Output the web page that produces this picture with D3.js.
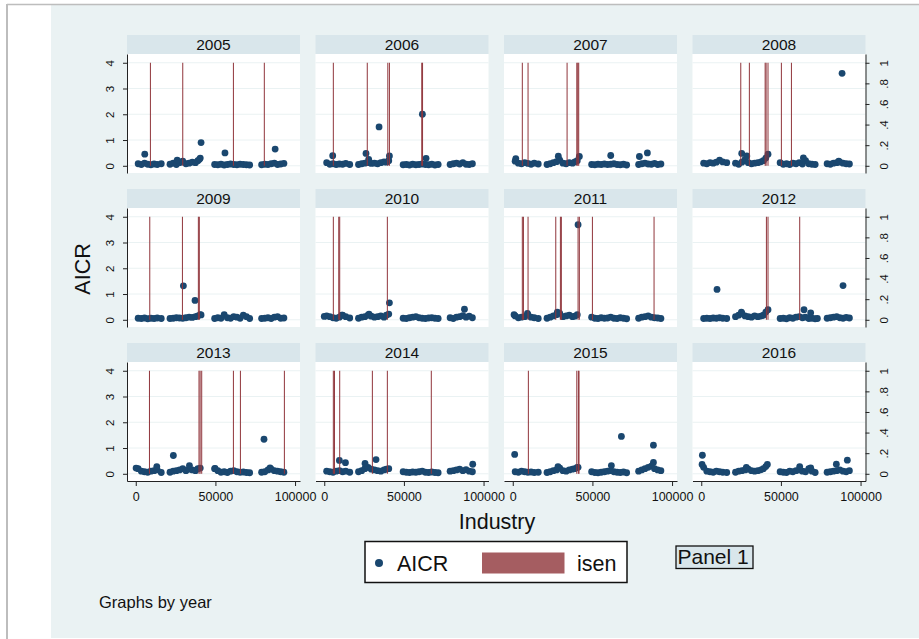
<!DOCTYPE html>
<html>
<head>
<meta charset="utf-8">
<script src="https://cdn.jsdelivr.net/npm/d3@7"></script>
<style>
body { margin: 0; background: #fff; }
svg { display: block; font-family: "Liberation Sans", Arial, sans-serif; }
</style>
</head>
<body>
<svg width="919" height="639"></svg>
<script>
var years = [2005, 2006, 2007, 2008, 2009, 2010, 2011, 2012, 2013, 2014, 2015, 2016];

// industry codes shared by every year
var industry = [1500, 3500, 5500, 7500, 9500, 11500, 13500, 16000,
  21500, 23500, 25500, 27500, 29500, 31500, 33500, 35500, 37500, 39000, 40500,
  49500, 51500, 53500, 55500, 57500, 59500, 61500, 63500, 65500, 67500, 69500, 71500,
  79000, 81000, 83000, 85000, 87000, 89000, 91000, 93000];

var aicr2005 = [.08, .05, .1, .06, .04, .07, .05, .08, .06, .1, .05, .12, .18, .08, .1, .14, .12, .2, .3, .05, .04, .06, .03, .05, .07, .05, .04, .06, .05, .04, .03, .04, .06, .05, .08, .1, .05, .07, .09];
var aicr2006 = [.12, .06, .08, .05, .07, .06, .09, .05, .05, .08, .1, .12, .09, .1, .08, .12, .15, .14, .2, .04, .05, .03, .06, .04, .05, .07, .05, .04, .06, .03, .05, .05, .08, .1, .07, .12, .06, .05, .08];
var aicr2007 = [.18, .1, .08, .12, .09, .06, .1, .07, .05, .08, .12, .16, .22, .1, .08, .12, .1, .15, .2, .05, .04, .06, .05, .07, .05, .06, .08, .05, .04, .06, .03, .05, .08, .1, .07, .06, .09, .05, .07];
var aicr2008 = [.1, .08, .12, .1, .14, .22, .15, .12, .1, .06, .14, .25, .12, .08, .1, .12, .15, .2, .3, .12, .06, .08, .05, .1, .08, .12, .07, .2, .08, .06, .05, .08, .06, .1, .12, .14, .1, .08, .07];
var aicr2009 = [.06, .05, .07, .04, .06, .05, .07, .05, .05, .06, .08, .07, .06, .08, .1, .09, .12, .15, .2, .05, .08, .06, .2, .08, .06, .12, .1, .06, .18, .12, .05, .05, .06, .08, .05, .1, .12, .06, .07];
var aicr2010 = [.15, .12, .08, .06, .1, .18, .12, .07, .06, .1, .12, .18, .14, .1, .12, .15, .1, .18, .22, .06, .05, .08, .1, .12, .08, .06, .05, .07, .08, .06, .05, .08, .05, .1, .12, .16, .1, .14, .08];
var aicr2011 = [.15, .08, .1, .12, .2, .1, .08, .05, .06, .1, .15, .2, .25, .12, .15, .18, .12, .14, .2, .1, .06, .05, .08, .06, .07, .1, .06, .05, .08, .06, .04, .06, .1, .12, .15, .1, .08, .07, .05];
var aicr2012 = [.05, .06, .05, .07, .06, .08, .06, .05, .12, .18, .25, .15, .12, .1, .15, .12, .14, .18, .3, .05, .06, .04, .08, .06, .1, .12, .08, .1, .05, .06, .04, .06, .08, .1, .12, .08, .06, .09, .07];
var aicr2013 = [.2, .1, .08, .06, .1, .12, .15, .05, .06, .1, .12, .15, .2, .12, .18, .15, .12, .2, .22, .2, .12, .06, .08, .05, .1, .12, .08, .06, .07, .05, .04, .06, .08, .15, .18, .12, .1, .08, .06];
var aicr2014 = [.1, .08, .06, .1, .12, .08, .1, .06, .08, .12, .2, .25, .18, .15, .12, .1, .15, .18, .2, .08, .06, .05, .07, .06, .08, .1, .06, .05, .07, .05, .04, .1, .12, .15, .18, .12, .16, .1, .08];
var aicr2015 = [.08, .06, .1, .08, .06, .07, .05, .06, .05, .08, .12, .15, .22, .12, .1, .15, .18, .2, .25, .08, .05, .04, .06, .08, .1, .12, .08, .06, .05, .07, .04, .1, .15, .2, .25, .3, .2, .15, .12];
var aicr2016 = [.25, .1, .08, .06, .1, .08, .06, .05, .06, .1, .12, .15, .18, .12, .1, .12, .15, .2, .28, .08, .06, .05, .1, .08, .12, .15, .1, .08, .2, .1, .05, .06, .08, .1, .12, .15, .1, .08, .12];

// points off the shared codes: [industry, AICR]
var extra2005 = [[5650, .45], [26000, .22], [40000, .25], [41000, .9], [56000, .5], [87500, .65]];
var extra2006 = [[5300, .39], [26200, .48], [27900, .25], [34400, 1.51], [40900, .38], [61600, 2.0], [63900, .29]];
var extra2007 = [[1900, .28], [28600, .37], [41800, .36], [61500, .4], [79500, .36], [84500, .5]];
var extra2008 = [[25400, .48], [28600, .38], [41900, .45], [64100, .31], [86300, .18], [88400, 3.59]];
var extra2009 = [[29900, 1.32], [37200, .75], [41000, .19]];
var extra2010 = [[0, .13], [11000, .18], [28100, .22], [40900, .66], [88000, .41]];
var extra2011 = [[800, .2], [9200, .25], [28000, .3], [41000, 3.69]];
var extra2012 = [[9900, 1.18], [25200, .3], [41900, .39], [64500, .39], [68700, .27], [72900, .05], [89000, 1.33]];
var extra2013 = [[200, .22], [13200, .28], [23600, .71], [33700, .32], [49800, .21], [80500, 1.34], [84300, .23]];
var extra2014 = [[9500, .52], [13300, .43], [25600, .4], [32500, .55], [93200, .37]];
var extra2015 = [[1200, .75], [28400, .28], [41000, .25], [61900, .32], [68200, 1.45], [88300, 1.11], [88300, .44]];
var extra2016 = [[500, .36], [700, .72], [28300, .25], [41500, .36], [61800, .28], [68700, .23], [84800, .37], [91700, .53]];

// industries with isen == 1
var isen2005 = [9200, 29500, 61300, 80700];
var isen2006 = [5700, 27000, 39900, 40900, 61200, 61700];
var isen2007 = [6000, 9600, 34100, 40200, 40800, 41400];
var isen2008 = [24800, 30200, 40100, 40700, 41900, 50300, 56600];
var isen2009 = [8800, 29300, 39300, 39900];
var isen2010 = [5700, 9100, 9700, 39600];
var isen2011 = [6000, 6700, 9600, 27000, 29900, 30500, 41000, 41800, 50000, 88700];
var isen2012 = [40900, 41900, 61800];
var isen2013 = [8600, 39700, 40400, 41400, 61300, 65700, 93300];
var isen2014 = [5700, 6400, 9700, 30200, 39600, 67200];
var isen2015 = [9800, 40200, 41200, 41600];
var isen2016 = [];

var aicrTicks = [0, 1, 2, 3, 4];
var isenTicks = [0, .2, .4, .6, .8, 1];
var isenLabels = ["0", ".2", ".4", ".6", ".8", "1"];
var xTicks = [0, 50000, 100000];

var aicrRows = [aicr2005, aicr2006, aicr2007, aicr2008, aicr2009, aicr2010, aicr2011, aicr2012, aicr2013, aicr2014, aicr2015, aicr2016];
var extraRows = [extra2005, extra2006, extra2007, extra2008, extra2009, extra2010, extra2011, extra2012, extra2013, extra2014, extra2015, extra2016];
var isenRows = [isen2005, isen2006, isen2007, isen2008, isen2009, isen2010, isen2011, isen2012, isen2013, isen2014, isen2015, isen2016];

var navy = "#1a476f";
var maroon = "#90353b";

var svg = d3.select("svg");

// graph region + window edge
svg.append("rect").attr("x", 51).attr("y", 5).attr("width", 868).attr("height", 633).attr("fill", "#eaf2f3");
svg.append("line").attr("x1", 7).attr("x2", 919).attr("y1", 4.5).attr("y2", 4.5).attr("stroke", "#bdbdbd").attr("stroke-width", 1.5);
svg.append("line").attr("x1", 7).attr("x2", 7).attr("y1", 4).attr("y2", 639).attr("stroke", "#bdbdbd").attr("stroke-width", 2);

var colX = 127, colStep = 188.5, plotW = 173;
var rowY = 54, rowStep = 154, plotH = 119, stripH = 19;

var x = d3.scaleLinear().domain([-5500, 103100]).range([0, plotW]);
var y = d3.scaleLinear().domain([-0.28, 4.34]).range([plotH, 0]);
var y2 = d3.scaleLinear().domain([-0.07, 1.085]).range([plotH, 0]);

function styleAxis(a) {
  a.select(".domain").attr("stroke", "#222");
  a.selectAll(".tick line").attr("stroke", "#222");
  a.selectAll(".tick text").attr("fill", "#111").attr("font-size", 11.5)
    .attr("font-family", "'Liberation Sans', Arial, sans-serif");
}

years.forEach(function(year, i) {
  var col = i % 4, row = Math.floor(i / 4);
  var g = svg.append("g").attr("transform", "translate(" + (colX + col * colStep) + "," + (rowY + row * rowStep) + ")");

  g.append("rect").attr("x", 0).attr("y", -stripH).attr("width", plotW).attr("height", stripH).attr("fill", "#d9e6eb");
  g.append("text").attr("x", plotW / 2).attr("y", -4.5).attr("text-anchor", "middle")
    .attr("font-size", 15.5).attr("fill", "#111").text(year);

  g.append("rect").attr("width", plotW).attr("height", plotH).attr("fill", "#fff");

  g.selectAll(".grid").data(aicrTicks).enter().append("line")
    .attr("x1", 0).attr("x2", plotW)
    .attr("y1", function(d) { return y(d); }).attr("y2", function(d) { return y(d); })
    .attr("stroke", "#eaf2f3").attr("stroke-width", 1);

  var pts = industry.map(function(d, j) { return [d, aicrRows[i][j]]; }).concat(extraRows[i]);
  g.selectAll(".pt").data(pts).enter().append("circle")
    .attr("cx", function(d) { return x(d[0]); })
    .attr("cy", function(d) { return y(d[1]); })
    .attr("r", 3.4)
    .attr("fill", navy);

  g.selectAll(".isen").data(isenRows[i]).enter().append("line")
    .attr("x1", function(d) { return x(d); }).attr("x2", function(d) { return x(d); })
    .attr("y1", y2(0)).attr("y2", y2(1))
    .attr("stroke", maroon).attr("stroke-width", 1);

  if (col == 0) {
    var la = g.append("g").call(d3.axisLeft(y).tickValues(aicrTicks).tickSize(4).tickSizeOuter(0).tickFormat(d3.format("d")));
    styleAxis(la);
    la.selectAll(".tick text").attr("transform", "rotate(-90)").attr("x", 0).attr("y", -13)
      .attr("dy", 0).attr("text-anchor", "middle");
  }
  if (col == 3) {
    var ra = g.append("g").attr("transform", "translate(" + plotW + ",0)")
      .call(d3.axisRight(y2).tickValues(isenTicks).tickSize(4).tickSizeOuter(0)
        .tickFormat(function(d, k) { return isenLabels[k]; }));
    styleAxis(ra);
    ra.selectAll(".tick text").attr("transform", "rotate(-90)").attr("x", 0).attr("y", 22)
      .attr("dy", 0).attr("text-anchor", "middle");
  }
  if (row == 2) {
    var ba = g.append("g").attr("transform", "translate(0," + plotH + ")")
      .call(d3.axisBottom(x).tickValues(xTicks).tickSize(5).tickSizeOuter(0).tickFormat(d3.format("d")));
    styleAxis(ba);
    ba.selectAll(".tick text").attr("font-size", 12.5).attr("y", 0).attr("dy", 0)
      .attr("transform", "translate(0,20)");
  }
});

// axis titles
svg.append("text").attr("transform", "translate(90,269) rotate(-90)").attr("text-anchor", "middle")
  .attr("font-size", 21.5).attr("fill", "#111").text("AICR");
svg.append("text").attr("x", 497).attr("y", 529).attr("text-anchor", "middle")
  .attr("font-size", 21.5).attr("fill", "#111").text("Industry");

// legend
var leg = svg.append("g");
leg.append("rect").attr("x", 365).attr("y", 541.5).attr("width", 262).attr("height", 41)
  .attr("fill", "#fff").attr("stroke", "#111").attr("stroke-width", 1.5);
leg.append("circle").attr("cx", 379).attr("cy", 563).attr("r", 4).attr("fill", navy);
leg.append("text").attr("x", 397).attr("y", 571).attr("font-size", 21.5).attr("fill", "#111").text("AICR");
leg.append("rect").attr("x", 482).attr("y", 552.5).attr("width", 82.5).attr("height", 21).attr("fill", "#a55d61");
leg.append("text").attr("x", 577).attr("y", 571).attr("font-size", 21.5).attr("fill", "#111").text("isen");

svg.append("rect").attr("x", 676).attr("y", 546).attr("width", 77).attr("height", 22.5)
  .attr("fill", "#d9e6eb").attr("stroke", "#111").attr("stroke-width", 1.3);
svg.append("text").attr("x", 677.5).attr("y", 564).attr("font-size", 21).attr("fill", "#111").text("Panel 1");

svg.append("text").attr("x", 99).attr("y", 608).attr("font-size", 16.5).attr("fill", "#111").text("Graphs by year");
</script>
</body>
</html>
